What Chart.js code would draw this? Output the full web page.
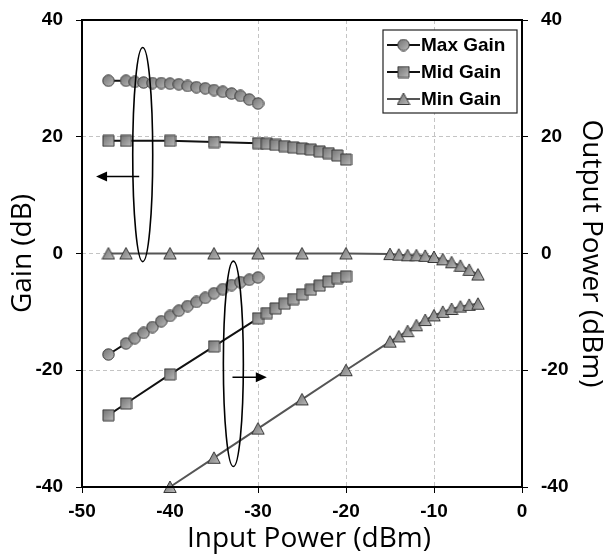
<!DOCTYPE html>
<html>
<head>
<meta charset="utf-8">
<script src="https://cdn.jsdelivr.net/npm/chart.js@4.4.0/dist/chart.umd.min.js"></script>
<style>
  html, body { margin: 0; padding: 0; background: #fff; }
  #wrap { width: 608px; height: 559px; }
</style>
</head>
<body>
<div id="wrap"><canvas id="gainChart" width="608" height="559"></canvas></div>
<script>
// Input power (dBm) for each curve
const maxInput = [-47, -45, -44, -43, -42, -41, -40, -39, -38, -37, -36, -35, -34, -33, -32, -31, -30];
const midInput = [-47, -45, -40, -35, -30, -29, -28, -27, -26, -25, -24, -23, -22, -21, -20];
const minInput = [-47, -45, -40, -35, -30, -25, -20, -15, -14, -13, -12, -11, -10, -9, -8, -7, -6, -5];
const minOutInput = [-40, -35, -30, -25, -20, -15, -14, -13, -12, -11, -10, -9, -8, -7, -6, -5];

// Gain (dB), left axis
const maxGain = [29.6, 29.6, 29.4, 29.3, 29.2, 29.2, 29.1, 29.0, 28.7, 28.5, 28.3, 28.0, 27.7, 27.4, 27.0, 26.4, 25.7];
const midGain = [19.3, 19.3, 19.3, 19.1, 18.9, 18.8, 18.6, 18.4, 18.2, 18.0, 17.8, 17.5, 17.2, 16.8, 16.1];
const minGain = [0, 0, 0, 0, 0, 0, 0, -0.1, -0.2, -0.3, -0.3, -0.4, -0.6, -1.0, -1.5, -2.1, -2.8, -3.6];

// Output power (dBm), right axis
const maxOutput = [-17.3, -15.4, -14.5, -13.6, -12.6, -11.6, -10.7, -9.8, -9.0, -8.3, -7.6, -6.8, -6.1, -5.4, -4.9, -4.5, -4.1];
const midOutput = [-27.7, -25.7, -20.7, -15.9, -11.1, -10.2, -9.4, -8.6, -7.8, -7.0, -6.2, -5.5, -4.8, -4.2, -3.9];
const minOutput = [-40, -35, -30, -25, -20, -15.1, -14.2, -13.3, -12.3, -11.4, -10.6, -10.0, -9.5, -9.1, -8.8, -8.6];

const xTicks = [-50, -40, -30, -20, -10, 0];
const yTicks = [-40, -20, 0, 20, 40];
const legendLabels = ['Max Gain', 'Mid Gain', 'Min Gain'];
const xTitle = 'Input Power (dBm)';

// ellipses [x, yTop, yBottom] and arrows [xFrom, xTo, y] in data units
const ellipses = [[-43.1, 35.3, -1.4], [-32.8, -1.3, -36.5]];
const arrows = [[-43.5, -48.4, 13.2], [-32.9, -29.0, -21.2]];

function pairs(xs, ys) {
  return xs.map((x, i) => ({ x: x, y: ys[i] }));
}

// grey shaded markers, drawn once on small canvases
function makeMarker(shape) {
  const size = shape === 'triangle' ? 14 : 13;
  const c = document.createElement('canvas');
  c.width = size;
  c.height = size;
  const g = c.getContext('2d');
  const grad = g.createLinearGradient(0, 0, size, size);
  grad.addColorStop(0, '#6c6c6c');
  grad.addColorStop(0.55, '#9a9a9a');
  grad.addColorStop(1, '#c4c4c4');
  g.fillStyle = grad;
  g.strokeStyle = '#383838';
  g.lineWidth = 1;
  g.beginPath();
  if (shape === 'circle') {
    g.arc(size / 2, size / 2, size / 2 - 0.8, 0, Math.PI * 2);
  } else if (shape === 'rect') {
    g.rect(1, 1, size - 2, size - 2);
  } else {
    g.moveTo(size / 2, 1);
    g.lineTo(size - 0.8, size - 1.5);
    g.lineTo(0.8, size - 1.5);
    g.closePath();
  }
  g.fill();
  g.stroke();
  return c;
}

const markers = {
  circle: makeMarker('circle'),
  rect: makeMarker('rect'),
  triangle: makeMarker('triangle')
};

function series(label, xs, ys, axis, shape, lineColor) {
  return {
    label: label,
    data: pairs(xs, ys),
    yAxisID: axis,
    borderColor: lineColor,
    borderWidth: 2,
    pointStyle: markers[shape],
    pointRadius: 7,
    tension: 0,
    clip: false
  };
}

const frameAndNotes = {
  id: 'frameAndNotes',
  afterDraw(chart) {
    const ctx = chart.ctx;
    const a = chart.chartArea;
    const xs = chart.scales.x;
    const ys = chart.scales.y;

    // plot frame
    ctx.save();
    ctx.strokeStyle = '#000';
    ctx.lineWidth = 2;
    ctx.strokeRect(a.left, a.top, a.right - a.left, a.bottom - a.top);

    // x axis title, sits a little right of the plot centre in the original
    ctx.fillStyle = '#000';
    ctx.font = '28px "Open Sans", Lato, sans-serif';
    ctx.textAlign = 'center';
    ctx.textBaseline = 'middle';
    ctx.fillText(xTitle, 309, 539);

    // ellipses
    ctx.lineWidth = 1.6;
    ellipses.forEach(e => {
      const cx = xs.getPixelForValue(e[0]);
      const y1 = ys.getPixelForValue(e[1]);
      const y2 = ys.getPixelForValue(e[2]);
      ctx.beginPath();
      ctx.ellipse(cx, (y1 + y2) / 2, 10, Math.abs(y2 - y1) / 2, 0, 0, Math.PI * 2);
      ctx.stroke();
    });

    // arrows
    arrows.forEach(ar => {
      const x1 = xs.getPixelForValue(ar[0]);
      const x2 = xs.getPixelForValue(ar[1]);
      const y = ys.getPixelForValue(ar[2]);
      const dir = x2 > x1 ? 1 : -1;
      ctx.lineWidth = 1.5;
      ctx.beginPath();
      ctx.moveTo(x1, y);
      ctx.lineTo(x2 - dir * 8, y);
      ctx.stroke();
      ctx.beginPath();
      ctx.moveTo(x2, y);
      ctx.lineTo(x2 - dir * 11, y - 5);
      ctx.lineTo(x2 - dir * 11, y + 5);
      ctx.closePath();
      ctx.fillStyle = '#000';
      ctx.fill();
    });

    // legend box
    const bx = 383, by = 30, bw = 134, bh = 83;
    ctx.fillStyle = '#fff';
    ctx.fillRect(bx, by, bw, bh);
    ctx.strokeStyle = '#222';
    ctx.lineWidth = 1.2;
    ctx.strokeRect(bx, by, bw, bh);

    const rows = [45, 72, 99];
    const shapes = ['circle', 'rect', 'triangle'];
    const colors = ['#111', '#111', '#555'];
    legendLabels.forEach((label, i) => {
      const y = rows[i];
      ctx.strokeStyle = colors[i];
      ctx.lineWidth = 2;
      ctx.beginPath();
      ctx.moveTo(387, y);
      ctx.lineTo(420, y);
      ctx.stroke();
      const m = markers[shapes[i]];
      ctx.drawImage(m, 403.5 - m.width / 2, y - m.height / 2);
      ctx.fillStyle = '#000';
      ctx.font = 'bold 19px "Liberation Sans", Arial, sans-serif';
      ctx.textBaseline = 'middle';
      ctx.textAlign = 'left';
      ctx.fillText(label, 421, y + 1);
    });
    ctx.restore();
  }
};

function gridColor(ctx) {
  const v = ctx.tick ? ctx.tick.value : null;
  if (v === -50 || v === 0 && ctx.scale.axis === 'x' || v === 40 || v === -40) return 'rgba(0,0,0,0)';
  return '#c4c4c4';
}

const tickFont = { family: '"Liberation Sans", Arial, sans-serif', size: 19, weight: 'bold' };
const titleFont = { family: '"Open Sans", Lato, sans-serif', size: 28 };

function yAxis(position, title) {
  return {
    type: 'linear',
    position: position,
    min: -40,
    max: 40,
    afterBuildTicks: s => { s.ticks = yTicks.map(v => ({ value: v })); },
    afterFit: s => {
      s.width = position === 'left' ? 82 : 86;
      s.paddingTop = 0;
      s.paddingBottom = 0;
    },
    ticks: { color: '#000', font: tickFont, padding: 13 },
    grid: {
      drawOnChartArea: position === 'left',
      color: gridColor,
      tickColor: '#000',
      tickLength: 6,
      lineWidth: 1
    },
    border: { display: false, dash: [4, 3] },
    title: {
      display: true,
      text: title,
      color: '#000',
      font: titleFont,
      padding: position === 'left' ? { top: 6, bottom: 0 } : { top: 0, bottom: 0 }
    }
  };
}

function initializeChart() {
  const ctx = document.getElementById('gainChart').getContext('2d');
  new Chart(ctx, {
    type: 'line',
    data: {
      datasets: [
        series('Max Gain', maxInput, maxGain, 'y', 'circle', '#111'),
        series('Mid Gain', midInput, midGain, 'y', 'rect', '#111'),
        series('Min Gain', minInput, minGain, 'y', 'triangle', '#555'),
        series('Max Output', maxInput, maxOutput, 'y2', 'circle', '#111'),
        series('Mid Output', midInput, midOutput, 'y2', 'rect', '#111'),
        series('Min Output', minOutInput, minOutput, 'y2', 'triangle', '#555')
      ]
    },
    options: {
      responsive: false,
      animation: false,
      layout: { padding: { top: 20, left: 0, right: 0, bottom: 0 } },
      plugins: { legend: { display: false }, tooltip: { enabled: false } },
      scales: {
        x: {
          type: 'linear',
          min: -50,
          max: 0,
          afterBuildTicks: s => { s.ticks = xTicks.map(v => ({ value: v })); },
          afterFit: s => { s.height = 72; },
          ticks: { color: '#000', font: tickFont, padding: 7, maxRotation: 0 },
          grid: { color: gridColor, tickColor: '#000', tickLength: 6, lineWidth: 1 },
          border: { display: false, dash: [4, 3] },
          title: { display: false }
        },
        y: yAxis('left', 'Gain (dB)'),
        y2: yAxis('right', 'Output Power (dBm)')
      }
    },
    plugins: [frameAndNotes]
  });
}

document.addEventListener('DOMContentLoaded', () => {
  initializeChart();
});
</script>
</body>
</html>
